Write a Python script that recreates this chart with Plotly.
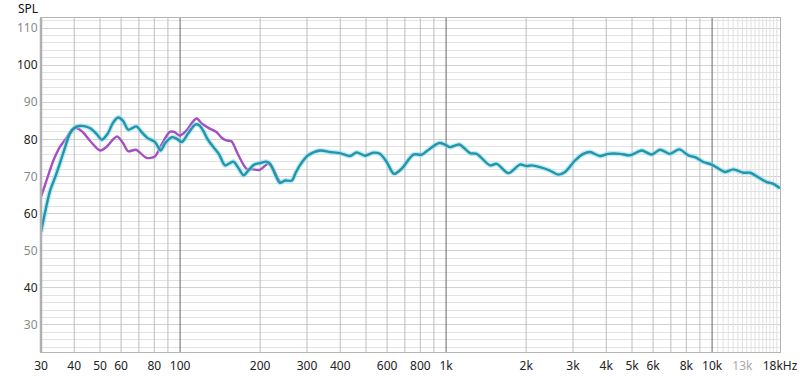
import numpy as np
import plotly.graph_objects as go

# ---- data ----
teal_freq = [30, 31, 32.4, 34, 35.5, 37, 38.5, 40.4, 42, 44, 46.1, 48.5, 50.8, 53.4, 56, 58.5, 61, 63.8,
             66, 68.5, 72, 75.3, 80.4, 84.5, 88, 93.3, 97, 101.5, 107, 114, 118, 122, 127, 133.5, 140,
             147.5, 153, 158.7, 165, 173.3, 180, 190, 200, 211, 218, 228, 237, 248, 263, 272, 282, 303,
             336, 366, 399, 435, 461, 496, 532, 564, 598, 637, 681, 753, 810, 870, 943, 991, 1035, 1121,
             1230, 1303, 1462, 1550, 1714, 1896, 2009, 2098, 2254, 2457, 2641, 2799, 3052, 3280, 3476,
             3790, 4072, 4506, 4914, 5438, 5929, 6372, 6948, 7530, 8142, 8626, 9267, 9965, 10866, 11181,
             12016, 13104, 13886, 14918, 16047, 16987, 18000]
teal_spl = [55, 60, 66, 70, 74, 78, 81.5, 83.3, 83.6, 83.5, 82.9, 81.5, 79.9, 81.5, 84.5, 85.9, 85, 82.6,
            83, 83.5, 81.8, 80.4, 79.3, 77, 79, 80.6, 80.2, 79.3, 81.5, 84, 83.8, 82.4, 80, 77.9, 76,
            73, 73.5, 74, 72.5, 70.3, 71.5, 73.2, 73.6, 74, 73.4, 70.5, 68.3, 68.9, 68.9, 71, 73, 75.7,
            77, 76.6, 76.3, 75.5, 76.5, 75.6, 76.4, 76.1, 73.9, 70.7, 72.1, 75.9, 75.9, 77.5, 79, 78.6, 77.9, 78.6,
            76.3, 76.1, 73, 73.4, 70.9, 73.2, 72.8, 73, 72.5, 71.6, 70.5, 71.2, 74.3, 76.1, 76.6,
            75.5, 76.1, 76.1, 75.7, 77, 75.9, 77.2, 76.1, 77.3, 75.7, 75.2, 73.9, 73.2, 71.6, 71.2,
            71.9, 71, 71, 69.8, 68.5, 68, 66.8]

purple_freq = [30, 31, 32, 33.4, 35.3, 37.5, 39.6, 41, 43, 46, 50, 53, 56, 58, 61, 63.8, 68.2, 71, 74.7,
               80.4, 85, 91.5, 95, 99.8, 106, 111, 115.3, 121, 129.3, 137, 143, 149.4, 156, 165, 177.6,
               188, 199.3, 214, 222, 233, 240]
purple_spl = [64.5, 67.5, 70.5, 74.3, 77.9, 80.5, 82.9, 83, 82, 79.5, 77, 78, 80, 80.8, 79, 76.8, 77.2, 76.3, 75,
              75.4, 78.5, 82, 82, 81, 82.5, 84.5, 85.6, 84.2, 82.9, 82, 80.5, 79.7, 79.5, 76, 72.1,
              71.9, 71.8, 73.4, 72.5, 69.5, 68.2]

x_tick_vals = [30, 40, 50, 60, 80, 100, 200, 300, 400, 600, 800, 1000, 2000, 3000, 4000, 5000, 6000,
               8000, 10000, 13000, 18000]
x_tick_text = ["30", "40", "50", "60", "80", "100", "200", "300", "400", "600", "800", "1k", "2k", "3k",
               "4k", "5k", "6k", "8k", "10k", "13k", "18kHz"]
y_tick_vals = [30, 40, 50, 60, 70, 80, 90, 100, 110]

grid_normal = [40, 50, 60, 70, 80, 90, 200, 300, 400, 500, 600, 700, 800, 900,
               2000, 3000, 4000, 5000, 6000, 7000, 8000, 9000]
grid_major = [100, 1000, 10000]
grid_light = [float(v) for v in np.arange(10500, 18000, 500)]

x_range = [np.log10(30), np.log10(18000)]
y_range = [22.7, 112.7]

fig = go.Figure()


def vgrid(freqs, color):
    xs, ys = [], []
    for f in freqs:
        xs += [f, f, None]
        ys += [y_range[0], y_range[1], None]
    fig.add_trace(go.Scatter(x=xs, y=ys, mode="lines", line=dict(color=color, width=1),
                             hoverinfo="skip", showlegend=False))


vgrid(grid_light, "#e0e0e0")
vgrid(grid_normal, "#bdbdbd")
vgrid(grid_major, "#666666")

fig.add_trace(go.Scatter(x=purple_freq, y=purple_spl, mode="lines",
                         line=dict(color="#a54fc2", width=2.4, shape="spline", smoothing=0.8),
                         hoverinfo="skip", showlegend=False))
fig.add_trace(go.Scatter(x=teal_freq, y=teal_spl, mode="lines",
                         line=dict(color="rgba(130,220,238,0.55)", width=5, shape="spline", smoothing=0.8),
                         hoverinfo="skip", showlegend=False))
fig.add_trace(go.Scatter(x=teal_freq, y=teal_spl, mode="lines",
                         line=dict(color="#2494a9", width=2.4, shape="spline", smoothing=0.8),
                         hoverinfo="skip", showlegend=False))

shapes = [dict(type="line", xref="paper", yref="paper", x0=0, x1=0, y0=0, y1=1,
               line=dict(color="#b0b0b0", width=2.5), layer="above")]

y_text = []
for i, v in enumerate(y_tick_vals):
    col = "#8a8a8a" if i % 2 == 0 else "#222222"
    y_text.append(f'<span style="color:{col}">{v}</span>')
x_text = []
for t in x_tick_text:
    col = "#aaaaaa" if t == "13k" else "#222222"
    x_text.append(f'<span style="color:{col}">{t}</span>')

fig.update_layout(
    width=800, height=376,
    margin=dict(l=41, r=20, t=18, b=24),
    paper_bgcolor="white", plot_bgcolor="white",
    font=dict(family="Noto Sans, Open Sans, sans-serif", size=12, color="#222"),
    shapes=shapes,
    showlegend=False,
    xaxis=dict(type="log", range=x_range, tickvals=x_tick_vals, ticktext=x_text, automargin=False,
               showgrid=False, zeroline=False, showline=True, linecolor="#b5b5b5", linewidth=1,
               mirror=True, ticks="", ticklen=0, ticklabelstandoff=3, tickfont=dict(size=12)),
    yaxis=dict(range=y_range, tickvals=y_tick_vals, ticktext=y_text, automargin=False,
               showgrid=True, gridcolor="#d2d2d2", gridwidth=1, zeroline=False,
               showline=True, linecolor="#b5b5b5", linewidth=1, mirror=True, ticks="",
               minor=dict(tickvals=list(range(24, 113, 2)), showgrid=True, gridcolor="#e3e3e3", gridwidth=1),
               tickfont=dict(size=12)),
    annotations=[dict(text="SPL", xref="paper", yref="paper", x=(28 - 41) / 739, y=1 + (18 - 8) / 334,
                      xanchor="center", yanchor="middle", showarrow=False,
                      font=dict(size=12, color="#111"))],
)

fig.write_html("out.html")
